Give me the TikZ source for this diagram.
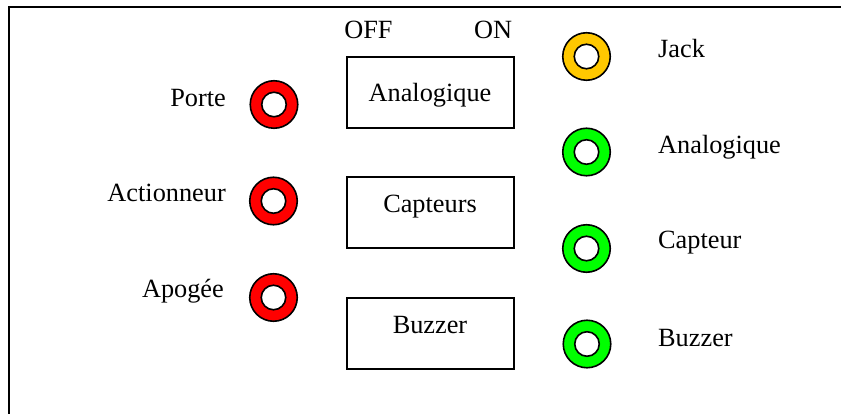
\documentclass[tikz,border=0pt]{standalone}
\usepackage{fontspec}
\setmainfont{Liberation Serif}
\definecolor{ringred}{HTML}{FF0000}
\definecolor{ringgreen}{HTML}{00FF00}
\definecolor{ringyellow}{HTML}{FFC800}
\begin{document}
\begin{tikzpicture}[x=1pt,y=-1pt,
  every node/.style={font=\fontsize{26.3}{30}\selectfont, inner sep=0pt},
  ringout/.style={circle, draw=black, line width=1.6pt, fill=#1, minimum size=47.5pt},
  ringin/.style={circle, draw=black, line width=1.6pt, fill=white, minimum size=24.5pt},
  switchbox/.style={rectangle, draw=black, line width=2pt, minimum width=167pt, minimum height=71pt},
  lbl/.style={anchor=base east},
  rlbl/.style={anchor=base west},
  boxtxt/.style={anchor=base}]
\useasboundingbox (0,0) rectangle (841,414);
% frame
\coordinate (fbl) at (9,414);
\coordinate (ftl) at (9,7);
\coordinate (ftr) at (841,7);
\draw[line width=2pt] (fbl) -- (ftl) -- (ftr);

% switch labels
\node[boxtxt] (off) at (368.5,39) {OFF};
\node[boxtxt] (on) at (493,39) {ON};

% switch boxes
\node[switchbox] (b1) at (430,92.5) {};
\node[switchbox] (b2) at (430,213) {};
\node[switchbox] (b3) at (430,333) {};
\node[boxtxt] (b1t) at (430,102) {Analogique};
\node[boxtxt] (b2t) at (430,213) {Capteurs};
\node[boxtxt] (b3t) at (430,333) {Buzzer};

% left red rings
\node[ringout=ringred] (r1) at (274,104.5) {};
\node[ringin] (r1i) at (r1) {};
\node[ringout=ringred] (r2) at (273.5,201) {};
\node[ringin] (r2i) at (r2) {};
\node[ringout=ringred] (r3) at (273.5,297.5) {};
\node[ringin] (r3i) at (r3) {};
\node[lbl] (l1) at (226,107) {Porte};
\node[lbl] (l2) at (226,202) {Actionneur};
\node[lbl] (l3) at (224,298) {Apogée};

% right rings
\node[ringout=ringyellow] (g0) at (586.5,56.5) {};
\node[ringin] (g0i) at (g0) {};
\node[ringout=ringgreen] (g1) at (586.5,152) {};
\node[ringin] (g1i) at (g1) {};
\node[ringout=ringgreen] (g2) at (586.5,248.5) {};
\node[ringin] (g2i) at (g2) {};
\node[ringout=ringgreen] (g3) at (587,344) {};
\node[ringin] (g3i) at (g3) {};
\node[rlbl] (t0) at (658,58) {Jack};
\node[rlbl] (t1) at (658,154) {Analogique};
\node[rlbl] (t2) at (658,249) {Capteur};
\node[rlbl] (t3) at (658,346) {Buzzer};
\end{tikzpicture}
\end{document}
